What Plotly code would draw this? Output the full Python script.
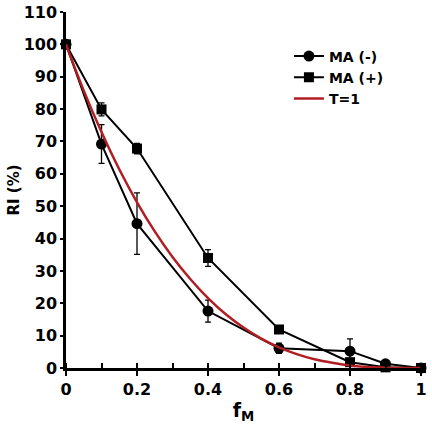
import plotly.graph_objects as go

f_m = [0, 0.1, 0.2, 0.4, 0.6, 0.8, 0.9, 1.0]
ma_minus = [100, 69.2, 44.6, 17.6, 6.1, 5.2, 1.3, 0]
ma_minus_err = [0, 6, 9.5, 3.4, 1.6, 3.8, 1.0, 0]
ma_plus = [100, 79.9, 67.8, 34.0, 11.9, 1.8, 0.2, 0]
ma_plus_err = [0, 2.0, 1.6, 2.6, 1.0, 1.0, 0.5, 0]

t1_f = [0, 0.05, 0.1, 0.15, 0.2, 0.25, 0.3, 0.35, 0.4, 0.45, 0.5,
        0.55, 0.6, 0.65, 0.7, 0.75, 0.8, 0.85, 0.9, 0.95, 1.0]
t1_ri = [100, 85.7, 72.9, 61.4, 51.2, 42.2, 34.3, 27.5, 21.6, 16.6, 12.5,
         9.1, 6.4, 4.3, 2.7, 1.6, 0.8, 0.3, 0.1, 0.0, 0.0]

x_ticks = [0, 0.2, 0.4, 0.6, 0.8, 1.0]
x_tick_labels = ["0", "0.2", "0.4", "0.6", "0.8", "1"]
y_ticks = [0, 10, 20, 30, 40, 50, 60, 70, 80, 90, 100, 110]

FONT = "DejaVu Sans"
RED = "#b01e23"

fig = go.Figure()
fig.add_trace(go.Scatter(
    x=f_m, y=ma_minus, name="MA (-)", mode="lines+markers",
    line=dict(color="black", width=2),
    marker=dict(symbol="circle", size=11, color="black"),
    error_y=dict(type="data", array=ma_minus_err, color="black", thickness=1.3, width=3),
    cliponaxis=False,
))
fig.add_trace(go.Scatter(
    x=f_m, y=ma_plus, name="MA (+)", mode="lines+markers",
    line=dict(color="black", width=2),
    marker=dict(symbol="square", size=10, color="black"),
    error_y=dict(type="data", array=ma_plus_err, color="black", thickness=1.3, width=3),
    cliponaxis=False,
))
fig.add_trace(go.Scatter(
    x=t1_f, y=t1_ri, name="T=1", mode="lines",
    line=dict(color=RED, width=2.5, shape="spline"),
    cliponaxis=False,
))

fig.update_layout(
    width=432, height=428,
    margin=dict(l=66, r=11, t=12, b=60),
    plot_bgcolor="white", paper_bgcolor="white",
    font=dict(family=FONT, color="black", size=15, weight="bold"),
    showlegend=True,
    legend=dict(
        x=0.628, y=0.92, xanchor="left", yanchor="top",
        bgcolor="rgba(0,0,0,0)", borderwidth=0,
        font=dict(family=FONT, size=14, weight="bold"),
        tracegroupgap=0,
    ),
    xaxis=dict(
        range=[0, 1], tickmode="array", tickvals=x_ticks, ticktext=x_tick_labels,
        automargin=False,
        showgrid=False, zeroline=False, showline=True, linecolor="black", linewidth=2.5,
        ticks="outside", ticklen=5, tickwidth=2, tickcolor="black",
        minor=dict(ticks="inside", dtick=0.1, ticklen=5, tickwidth=2, tickcolor="black"),
        tickfont=dict(family=FONT, size=16, weight="bold"),
        title=dict(text="f<sub>M</sub>", font=dict(family=FONT, size=19, weight="bold"), standoff=6),
    ),
    yaxis=dict(
        range=[0, 110], tickmode="array", tickvals=y_ticks,
        automargin=False,
        showgrid=False, zeroline=False, showline=True, linecolor="black", linewidth=2.5,
        ticks="outside", ticklen=3, tickwidth=2, tickcolor="black",
        tickfont=dict(family=FONT, size=16, weight="bold"),
        title=dict(text="RI (%)", font=dict(family=FONT, size=15, weight="bold"), standoff=1),
    ),
)

fig.write_html("out.html", config={"displayModeBar": False},
               post_script="document.body.style.margin='0';")
